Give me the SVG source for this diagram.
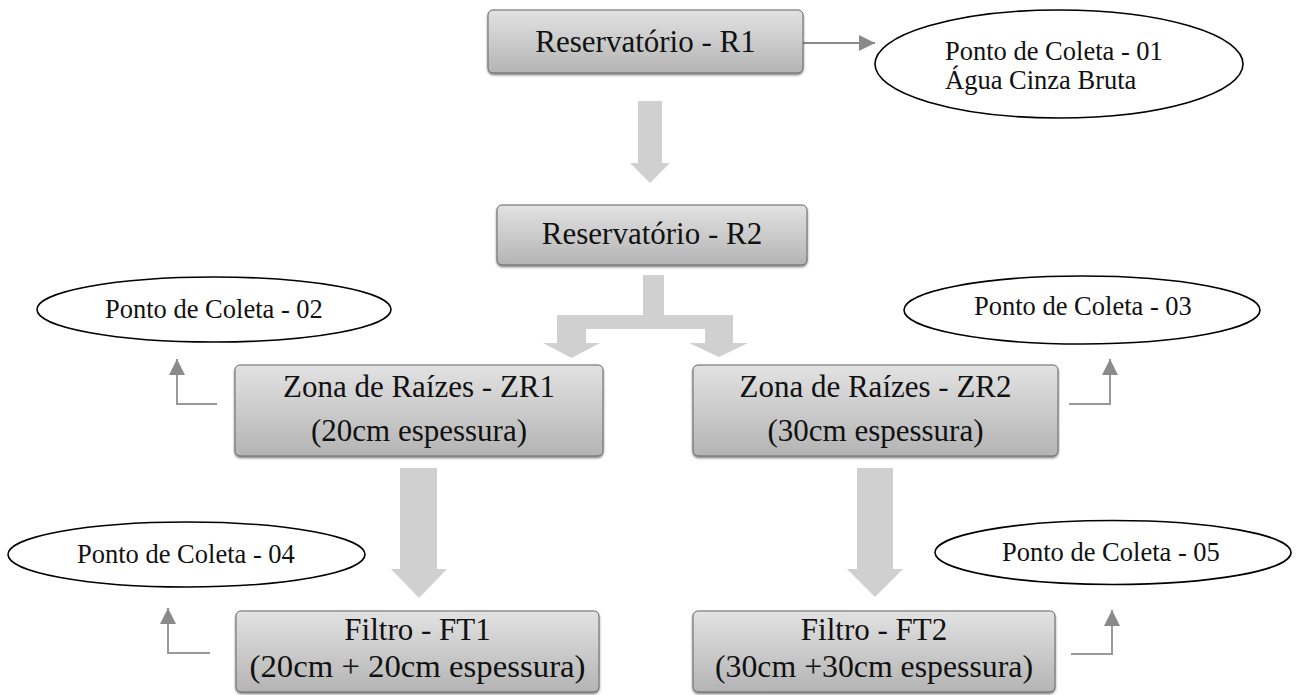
<svg xmlns="http://www.w3.org/2000/svg" width="1296" height="695" viewBox="0 0 1296 695">
<defs>
<linearGradient id="boxg" x1="0" y1="0" x2="0" y2="1">
<stop offset="0" stop-color="#e2e2e2"/>
<stop offset="1" stop-color="#b4b4b4"/>
</linearGradient>
<filter id="sh" x="-5%" y="-10%" width="110%" height="130%">
<feDropShadow dx="0" dy="1.5" stdDeviation="0.8" flood-color="#000" flood-opacity="0.55"/>
</filter>
<marker id="ah" viewBox="0 0 16 16" refX="16" refY="8" markerWidth="16" markerHeight="16" markerUnits="userSpaceOnUse" orient="auto">
<path d="M0,0 L16,8 L0,16 Z" fill="#8a8a8a"/>
</marker>
<style>
.box{fill:url(#boxg);stroke:#666;stroke-width:1;filter:url(#sh)}
.bt{font-family:"Liberation Serif","Times New Roman",serif;font-size:31px;fill:#111;text-anchor:middle}
.el{fill:#fff;stroke:#000;stroke-width:1.6}
.et{font-family:"Liberation Serif","Times New Roman",serif;font-size:26.5px;fill:#111}
.blk{fill:#d0d0d0}
.cn{fill:none;stroke:#999;stroke-width:2}
.cn2{fill:none;stroke:#8a8a8a;stroke-width:2}
</style>
</defs>

<g id="connectors">
<polygon class="blk" points="638,101 662,101 662,163 670,163 650,183 630,163 638,163"/>
<polygon class="blk" points="643,275 664,275 664,315 733,315 733,343 748,343 719,357 689,343 705,343 705,329 586,329 586,343 600,343 571.5,358 543,343 557,343 557,315 643,315"/>
<polygon class="blk" points="400,468 437,468 437,569 447,569 419,598 391,569 400,569"/>
<polygon class="blk" points="857,468 893,468 893,569 903,569 875,597 847,569 857,569"/>
<path class="cn2" d="M803,43 L875,43" marker-end="url(#ah)"/>
<path class="cn" d="M217,404 L177,404 L177,359" marker-end="url(#ah)"/>
<path class="cn" d="M1069,404 L1110,404 L1110,359" marker-end="url(#ah)"/>
<path class="cn" d="M210,653 L168,653 L168,608" marker-end="url(#ah)"/>
<path class="cn" d="M1071,654 L1112,654 L1112,610" marker-end="url(#ah)"/>
</g>

<g id="r1">
<rect class="box" x="488" y="10" width="315" height="63" rx="5"/>
<text class="bt" x="645.5" y="52">Reservatório - R1</text>
</g>
<g id="r2">
<rect class="box" x="497" y="205" width="310" height="60" rx="5"/>
<text class="bt" x="652" y="244">Reservatório - R2</text>
</g>
<g id="zr1">
<rect class="box" x="235" y="365" width="368" height="91" rx="5"/>
<text class="bt" x="419" y="397">Zona de Raízes - ZR1</text>
<text class="bt" x="419" y="441">(20cm espessura)</text>
</g>
<g id="zr2">
<rect class="box" x="693" y="365" width="365" height="91" rx="5"/>
<text class="bt" x="875.5" y="397">Zona de Raízes - ZR2</text>
<text class="bt" x="875.5" y="441">(30cm espessura)</text>
</g>
<g id="ft1">
<rect class="box" x="236" y="611" width="363" height="81" rx="5"/>
<text class="bt" x="417.5" y="640">Filtro - FT1</text>
<text class="bt" x="417.5" y="677" textLength="336" lengthAdjust="spacingAndGlyphs">(20cm + 20cm espessura)</text>
</g>
<g id="ft2">
<rect class="box" x="693" y="611" width="362" height="81" rx="5"/>
<text class="bt" x="874" y="640">Filtro - FT2</text>
<text class="bt" x="874" y="677" textLength="318" lengthAdjust="spacingAndGlyphs">(30cm +30cm espessura)</text>
</g>

<g id="pc01">
<ellipse class="el" cx="1059" cy="64" rx="184" ry="54"/>
<text class="et" x="945" y="60">Ponto de Coleta - 01</text>
<text class="et" x="945" y="89">Água Cinza Bruta</text>
</g>
<g id="pc02">
<ellipse class="el" cx="214" cy="309.5" rx="177" ry="32.5"/>
<text class="et" x="105" y="318">Ponto de Coleta - 02</text>
</g>
<g id="pc03">
<ellipse class="el" cx="1082" cy="310" rx="178" ry="34"/>
<text class="et" x="974" y="315">Ponto de Coleta - 03</text>
</g>
<g id="pc04">
<ellipse class="el" cx="186.5" cy="554.5" rx="178.5" ry="32.5"/>
<text class="et" x="77" y="563">Ponto de Coleta - 04</text>
</g>
<g id="pc05">
<ellipse class="el" cx="1113" cy="552.5" rx="178" ry="32"/>
<text class="et" x="1002" y="561">Ponto de Coleta - 05</text>
</g>
</svg>
